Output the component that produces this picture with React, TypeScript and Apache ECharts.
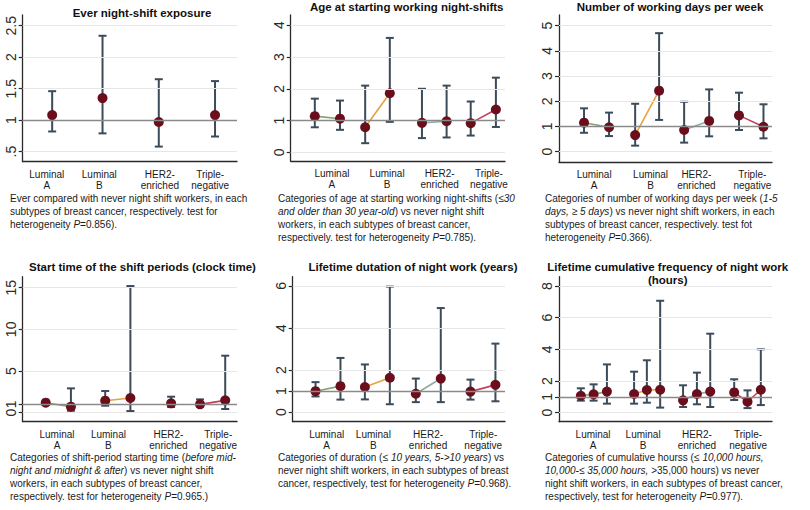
import React, { useEffect, useRef } from "react";
import * as echarts from "echarts";

const FONT = "'Liberation Sans', Arial, Helvetica, sans-serif";

const subtypeLabels = ["Luminal\nA", "Luminal\nB", "HER2-\nenriched", "Triple-\nnegative"];
const subtypeColors = ["#86a07a", "#e3a33f", "#8eaba6", "#c0415d"];

// ---- Panel 1: Ever night-shift exposure
const p1Title = ["Ever night-shift exposure"];
const p1Ticks = [0.5, 1, 1.5, 2, 2.5];
const p1LabelPos = [0.45, 1.43, 2.56, 3.5];
const p1X = [[0.55], [1.49], [2.54], [3.59]];
const p1Est = [[1.08], [1.35], [0.97], [1.08]];
const p1Lo = [[0.82], [0.79], [0.58], [0.74]];
const p1Hi = [[1.46], [2.34], [1.65], [1.62]];

// ---- Panel 2: Age at starting working night-shifts
const p2Title = ["Age at starting working night-shifts"];
const p2Ticks = [0, 1, 2, 3, 4];
const p2LabelPos = [0.77, 1.8, 2.78, 3.7];
const p2X = [[0.45, 0.92], [1.39, 1.85], [2.45, 2.91], [3.36, 3.83]];
const p2Est = [[1.14, 1.06], [0.79, 1.86], [0.93, 0.98], [0.92, 1.35]];
const p2Lo = [[0.79, 0.71], [0.29, 0.96], [0.45, 0.47], [0.53, 0.8]];
const p2Hi = [[1.69, 1.63], [2.1, 3.6], [2.0, 2.1], [1.6, 2.35]];

// ---- Panel 3: Number of working days per week
const p3Title = ["Number of working days per week"];
const p3Ticks = [0, 1, 2, 3, 4, 5];
const p3LabelPos = [0.66, 1.72, 2.58, 3.63];
const p3X = [[0.47, 0.94], [1.43, 1.88], [2.35, 2.82], [3.38, 3.84]];
const p3Est = [[1.15, 0.97], [0.66, 2.42], [0.86, 1.22], [1.44, 0.99]];
const p3Lo = [[0.75, 0.62], [0.24, 1.26], [0.36, 0.61], [0.86, 0.53]];
const p3Hi = [[1.72, 1.55], [1.9, 4.7], [1.98, 2.47], [2.34, 1.88]];

// ---- Panel 4: Start time of the shift periods
const p4Title = ["Start time of the shift periods (clock time)"];
const p4Ticks = [0, 1, 5, 10, 15];
const p4LabelPos = [0.64, 1.6, 2.72, 3.65];
const p4X = [[0.43, 0.9], [1.54, 2.01], [2.77], [3.31, 3.78]];
const p4Est = [[1.2, 0.72], [1.44, 1.76], [1.12], [1.0, 1.48]];
const p4Lo = [[0.92, 0.24], [0.84, 0.2], [0.68], [0.72, 0.44]];
const p4Hi = [[1.4, 2.92], [2.6, 15.2], [1.92], [1.6, 6.84]];

// ---- Panel 5: Lifetime duration of night work
const p5Title = ["Lifetime dutation of night work (years)"];
const p5Ticks = [0, 1, 2, 4, 6];
const p5LabelPos = [0.64, 1.52, 2.55, 3.59];
const p5X = [[0.43, 0.9], [1.36, 1.83], [2.32, 2.79], [3.35, 3.82]];
const p5Est = [[1.0, 1.24], [1.2, 1.64], [0.88, 1.6], [0.98, 1.3]];
const p5Lo = [[0.75, 0.6], [0.61, 0.38], [0.48, 0.48], [0.6, 0.52]];
const p5Hi = [[1.43, 2.58], [2.27, 5.97], [1.6, 4.95], [1.55, 3.26]];

// ---- Panel 6: Lifetime cumulative frequency of night work
const p6Title = ["Lifetime cumulative frequency of night work", "(hours)"];
const p6Ticks = [0, 1, 2, 4, 6, 8];
const p6LabelPos = [0.64, 1.58, 2.59, 3.55];
const p6X = [[0.41, 0.65, 0.9], [1.41, 1.65, 1.9], [2.33, 2.59, 2.84], [3.29, 3.54, 3.79]];
const p6Est = [[1.07, 1.16, 1.33], [1.18, 1.43, 1.45], [0.78, 1.18, 1.33], [1.28, 0.69, 1.45]];
const p6Lo = [[0.76, 0.76, 0.57], [0.57, 0.63, 0.32], [0.36, 0.53, 0.36], [0.8, 0.29, 0.48]];
const p6Hi = [[1.54, 1.79, 3.05], [2.59, 3.31, 7.07], [1.73, 2.53, 4.99], [2.11, 1.41, 4.0]];

// ---- Captions ({i|...} marks italic runs)
const p1Caption = [
  "Ever compared with never night shift workers, in each",
  "subtypes of breast cancer, respectively. test for",
  "heterogeneity {i|P}=0.856).",
];
const p2Caption = [
  "Categories of age at starting working night-shifts ({i|≤30}",
  "{i|and older than 30 year-old}) vs never night shift",
  "workers, in each subtypes of breast cancer,",
  "respectively. test for heterogeneity {i|P}=0.785).",
];
const p3Caption = [
  "Categories of number of working days per week ({i|1-5}",
  "{i|days, ≥ 5 days}) vs never night shift workers, in each",
  "subtypes of breast cancer, respectively. test fot",
  "heterogeneity {i|P}=0.366).",
];
const p4Caption = [
  "Categories of shift-period starting time ({i|before mid-}",
  "{i|night and midnight & after}) vs never night shift",
  "workers, in each subtypes of breast cancer,",
  "respectively. test for heterogeneity {i|P}=0.965.)",
];
const p5Caption = [
  "Categories of duration (≤ {i|10 years, 5->10 years}) vs",
  "never night shift workers, in each subtypes of breast",
  "cancer, respectively, test for heterogeneity {i|P}=0.968).",
];
const p6Caption = [
  "Categories of cumulative hourss (≤ {i|10,000 hours,}",
  "{i|10,000-≤ 35,000 hours,} >35,000 hours) vs never",
  "night shift workers, in each subtypes of breast cancer,",
  "respectively, test for heterogeneity {i|P}=0.977).",
];

type Panel = {
  title: string[];
  ticks: number[];
  labelPos: number[];
  x: number[][];
  est: number[][];
  lo: number[][];
  hi: number[][];
  caption: string[];
  // layout
  left: number; top: number; width: number; height: number;
  yMin: number; yMax: number;
  titleX: number; titleY: number;
  capX: number; capY: number;
};

const panels: Panel[] = [
  { title: p1Title, ticks: p1Ticks, labelPos: p1LabelPos, x: p1X, est: p1Est, lo: p1Lo, hi: p1Hi, caption: p1Caption,
    left: 22.7, top: 15, width: 214.3, height: 146.7, yMin: 0.34, yMax: 2.67, titleX: 142, titleY: 12.7, capX: 10, capY: 191.5 },
  { title: p2Title, ticks: p2Ticks, labelPos: p2LabelPos, x: p2X, est: p2Est, lo: p2Lo, hi: p2Hi, caption: p2Caption,
    left: 290.7, top: 15, width: 214.3, height: 146, yMin: -0.27, yMax: 4.32, titleX: 406.7, titleY: 6.5, capX: 278, capY: 191.5 },
  { title: p3Title, ticks: p3Ticks, labelPos: p3LabelPos, x: p3X, est: p3Est, lo: p3Lo, hi: p3Hi, caption: p3Caption,
    left: 559, top: 15, width: 213, height: 147.3, yMin: -0.42, yMax: 5.42, titleX: 670, titleY: 6.5, capX: 545, capY: 191.5 },
  { title: p4Title, ticks: p4Ticks, labelPos: p4LabelPos, x: p4X, est: p4Est, lo: p4Lo, hi: p4Hi, caption: p4Caption,
    left: 22.7, top: 276.7, width: 214.3, height: 145, yMin: -1.08, yMax: 16.32, titleX: 142.5, titleY: 267.3, capX: 10, capY: 450.5 },
  { title: p5Title, ticks: p5Ticks, labelPos: p5LabelPos, x: p5X, est: p5Est, lo: p5Lo, hi: p5Hi, caption: p5Caption,
    left: 292.7, top: 276.7, width: 212.3, height: 145, yMin: -0.45, yMax: 6.44, titleX: 413, titleY: 267.3, capX: 278, capY: 450.5 },
  { title: p6Title, ticks: p6Ticks, labelPos: p6LabelPos, x: p6X, est: p6Est, lo: p6Lo, hi: p6Hi, caption: p6Caption,
    left: 559, top: 276.7, width: 213, height: 145, yMin: -0.57, yMax: 8.59, titleX: 667.7, titleY: 266.7, capX: 545, capY: 450.5 },
];

const AXIS_COLOR = "#2a2a2a";
const BAR_COLOR = "#3b4b5a";
const DOT_COLOR = "#6a0e1c";

function buildOption() {
  const grid = panels.map((p) => ({ left: p.left, top: p.top, width: p.width, height: p.height }));

  const xAxis = panels.map((p, i) => ({
    gridIndex: i,
    type: "value",
    min: 0,
    max: 4,
    axisLine: { show: true, onZero: false, lineStyle: { color: AXIS_COLOR, width: 1.3 } },
    axisTick: { show: false },
    splitLine: { show: false },
    axisLabel: {
      customValues: p.labelPos,
      formatter: (v: number) => {
        let best = 0;
        p.labelPos.forEach((q, k) => {
          if (Math.abs(q - v) < Math.abs(p.labelPos[best] - v)) best = k;
        });
        return subtypeLabels[best];
      },
      fontSize: 10,
      lineHeight: 11,
      color: "#1a1a1a",
      margin: 7,
      fontFamily: FONT,
    },
  }));

  const yAxis = panels.map((p, i) => ({
    gridIndex: i,
    type: "value",
    min: p.yMin,
    max: p.yMax,
    axisLine: { show: true, onZero: false, lineStyle: { color: AXIS_COLOR, width: 1.3 } },
    axisTick: { show: true, customValues: p.ticks, length: 4, lineStyle: { color: AXIS_COLOR, width: 1.2 } },
    splitLine: { show: false },
    axisLabel: {
      customValues: p.ticks,
      rotate: 90,
      fontSize: 14,
      margin: 5,
      color: "#2a2a2a",
      fontFamily: FONT,
      formatter: (v: number) => (v === 0.5 ? ".5" : String(v)),
    },
  }));

  const series: any[] = [];
  panels.forEach((p, i) => {
    series.push({
      type: "line",
      xAxisIndex: i,
      yAxisIndex: i,
      data: [],
      silent: true,
      z: 1,
      markLine: {
        silent: true,
        symbol: "none",
        label: { show: false },
        emphasis: { disabled: true },
        lineStyle: { color: "#e6e6e6", width: 1, type: "solid" },
        data: p.ticks.map((v) => ({ yAxis: v })),
      },
    });
    series.push({
      type: "line",
      xAxisIndex: i,
      yAxisIndex: i,
      data: [],
      silent: true,
      z: 2,
      markLine: {
        silent: true,
        symbol: "none",
        label: { show: false },
        emphasis: { disabled: true },
        lineStyle: { color: "#8a8a8a", width: 1.4, type: "solid" },
        data: [{ yAxis: 1 }],
      },
    });
    const barData: number[][] = [];
    p.x.forEach((xs, g) => xs.forEach((xv, k) => barData.push([xv, p.lo[g][k], p.hi[g][k]])));
    series.push({
      type: "custom",
      xAxisIndex: i,
      yAxisIndex: i,
      z: 3,
      silent: true,
      data: barData,
      renderItem: (_params: any, api: any) => {
        const xv = api.value(0);
        const a = api.coord([xv, api.value(1)]);
        const b = api.coord([xv, api.value(2)]);
        const cap = 4;
        const style = { stroke: BAR_COLOR, lineWidth: 2 };
        return {
          type: "group",
          children: [
            { type: "line", shape: { x1: a[0], y1: a[1], x2: b[0], y2: b[1] }, style },
            { type: "line", shape: { x1: a[0] - cap, y1: a[1], x2: a[0] + cap, y2: a[1] }, style },
            { type: "line", shape: { x1: b[0] - cap, y1: b[1], x2: b[0] + cap, y2: b[1] }, style },
          ],
        };
      },
    });
    p.x.forEach((xs, g) => {
      series.push({
        type: "line",
        xAxisIndex: i,
        yAxisIndex: i,
        z: 4,
        silent: true,
        data: xs.map((xv, k) => [xv, p.est[g][k]]),
        symbol: "circle",
        symbolSize: 10,
        showSymbol: true,
        itemStyle: { color: DOT_COLOR, borderWidth: 0 },
        lineStyle: { color: subtypeColors[g], width: 1.6 },
      });
    });
  });

  const graphic: any[] = [];
  panels.forEach((p) => {
    p.title.forEach((t, k) => {
      graphic.push({
        type: "text",
        x: p.titleX,
        y: p.titleY + k * 13.3,
        silent: true,
        style: {
          text: t,
          fontFamily: FONT,
          fontSize: 11.5,
          fontWeight: "bold",
          fill: "#111",
          align: "center",
          verticalAlign: "middle",
          textAlign: "center",
          textVerticalAlign: "middle",
        },
      });
    });
    graphic.push({
      type: "text",
      x: p.capX,
      y: p.capY,
      scaleX: 0.91,
      silent: true,
      style: {
        text: p.caption.join("\n"),
        fontFamily: FONT,
        fontSize: 11,
        lineHeight: 13,
        fill: "#1a1a1a",
        align: "left",
        verticalAlign: "top",
        textAlign: "left",
        textVerticalAlign: "top",
        rich: {
          i: { fontFamily: FONT, fontSize: 11, lineHeight: 13, fontStyle: "italic", fill: "#1a1a1a" },
        },
      },
    });
  });

  return {
    animation: false,
    backgroundColor: "#ffffff",
    grid,
    xAxis,
    yAxis,
    series,
    graphic,
  };
}

export default function App() {
  const ref = useRef<HTMLDivElement>(null);
  useEffect(() => {
    if (!ref.current) return;
    const chart = echarts.init(ref.current, undefined, { renderer: "svg" });
    chart.setOption(buildOption() as any);
    return () => chart.dispose();
  }, []);
  return (
    <div
      ref={ref}
      style={{ position: "fixed", left: 0, top: 0, width: 810, height: 510, background: "#fff" }}
    />
  );
}
